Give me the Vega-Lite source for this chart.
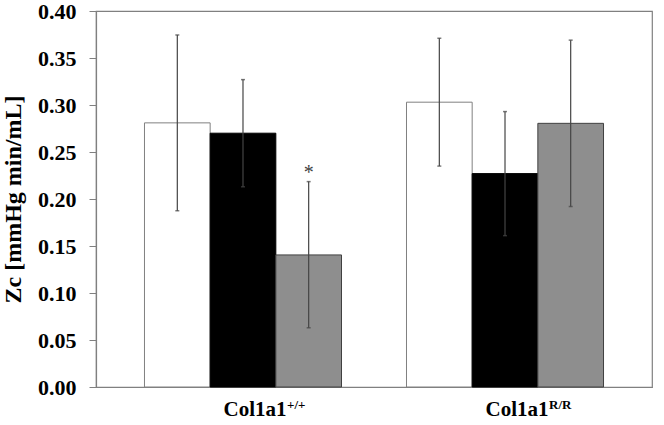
{
  "$schema": "https://vega.github.io/schema/vega-lite/v6.json",
  "width": 556,
  "height": 376,
  "autosize": {"type": "none"},
  "padding": {"left": 96, "top": 11, "right": 12, "bottom": 38},
  "background": "white",
  "config": {
    "view": {"stroke": "#808080", "strokeWidth": 1.2},
    "font": "Liberation Serif"
  },
  "datasets": {
    "bars": [
      {"group": "+/+", "cond": "a", "mean": 0.281, "lo": 0.1875, "hi": 0.3745, "sig": ""},
      {"group": "+/+", "cond": "b", "mean": 0.270, "lo": 0.213, "hi": 0.327, "sig": ""},
      {"group": "+/+", "cond": "c", "mean": 0.1405, "lo": 0.063, "hi": 0.2185, "sig": "*"},
      {"group": "R/R", "cond": "a", "mean": 0.303, "lo": 0.235, "hi": 0.371, "sig": ""},
      {"group": "R/R", "cond": "b", "mean": 0.227, "lo": 0.161, "hi": 0.293, "sig": ""},
      {"group": "R/R", "cond": "c", "mean": 0.2805, "lo": 0.192, "hi": 0.369, "sig": ""}
    ],
    "sups": [
      {"group": "+/+", "sup": "+/+"},
      {"group": "R/R", "sup": "R/R"}
    ]
  },
  "layer": [
    {
      "data": {"name": "bars"},
      "mark": {"type": "bar", "strokeWidth": 1},
      "encoding": {
        "x": {
          "field": "group", "type": "nominal",
          "scale": {"paddingInner": 0.248, "paddingOuter": 0.185},
          "axis": {
            "title": null, "labelExpr": "'Col1a1'", "labelAngle": 0,
            "ticks": false, "labelPadding": 11, "labelOffset": 12,
            "labelFont": "Liberation Serif", "labelFontWeight": "bold", "labelFontSize": 21,
            "labelColor": "black", "domainColor": "#808080", "domainWidth": 1.2
          }
        },
        "xOffset": {"field": "cond", "type": "nominal", "scale": {"paddingInner": 0, "paddingOuter": 0}},
        "y": {
          "field": "mean", "type": "quantitative",
          "scale": {"domain": [0, 0.4], "nice": false},
          "axis": {
            "title": "Zc [mmHg min/mL]", "values": [0, 0.05, 0.1, 0.15, 0.2, 0.25, 0.3, 0.35, 0.4],
            "format": ".2f", "grid": false, "tickSize": 7, "tickColor": "#808080",
            "domainColor": "#808080", "domainWidth": 1.2, "labelPadding": 13,
            "labelFont": "Liberation Serif", "labelFontWeight": "bold", "labelFontSize": 22,
            "labelColor": "black", "titleFont": "Liberation Serif", "titleFontWeight": "bold",
            "titleFontSize": 24, "titleColor": "black", "titlePadding": 12
          }
        },
        "color": {"field": "cond", "type": "nominal", "scale": {"domain": ["a", "b", "c"], "range": ["#ffffff", "#000000", "#8e8e8e"]}, "legend": null},
        "stroke": {"field": "cond", "type": "nominal", "scale": {"domain": ["a", "b", "c"], "range": ["#808080", "#000000", "#404040"]}, "legend": null}
      }
    },
    {
      "data": {"name": "bars"},
      "mark": {"type": "rule", "color": "#444444", "strokeWidth": 1.2},
      "encoding": {
        "x": {"field": "group", "type": "nominal"},
        "xOffset": {"field": "cond", "type": "nominal"},
        "y": {"field": "lo", "type": "quantitative"},
        "y2": {"field": "hi"}
      }
    },
    {
      "data": {"name": "bars"},
      "mark": {"type": "tick", "color": "#444444", "thickness": 1.5, "size": 4},
      "encoding": {
        "x": {"field": "group", "type": "nominal"},
        "xOffset": {"field": "cond", "type": "nominal"},
        "y": {"field": "lo", "type": "quantitative"}
      }
    },
    {
      "data": {"name": "bars"},
      "mark": {"type": "tick", "color": "#444444", "thickness": 1.5, "size": 4},
      "encoding": {
        "x": {"field": "group", "type": "nominal"},
        "xOffset": {"field": "cond", "type": "nominal"},
        "y": {"field": "hi", "type": "quantitative"}
      }
    },
    {
      "data": {"name": "bars"},
      "mark": {"type": "text", "fontSize": 20, "color": "#404040", "baseline": "alphabetic", "dy": -3},
      "encoding": {
        "x": {"field": "group", "type": "nominal"},
        "xOffset": {"field": "cond", "type": "nominal"},
        "y": {"field": "hi", "type": "quantitative"},
        "text": {"field": "sig"}
      }
    },
    {
      "data": {"name": "sups"},
      "mark": {"type": "text", "fontSize": 13, "fontWeight": "bold", "color": "black", "align": "left", "baseline": "alphabetic", "dx": 44, "dy": 22},
      "encoding": {
        "x": {"field": "group", "type": "nominal"},
        "y": {"datum": 0, "type": "quantitative"},
        "text": {"field": "sup"}
      }
    }
  ]
}
